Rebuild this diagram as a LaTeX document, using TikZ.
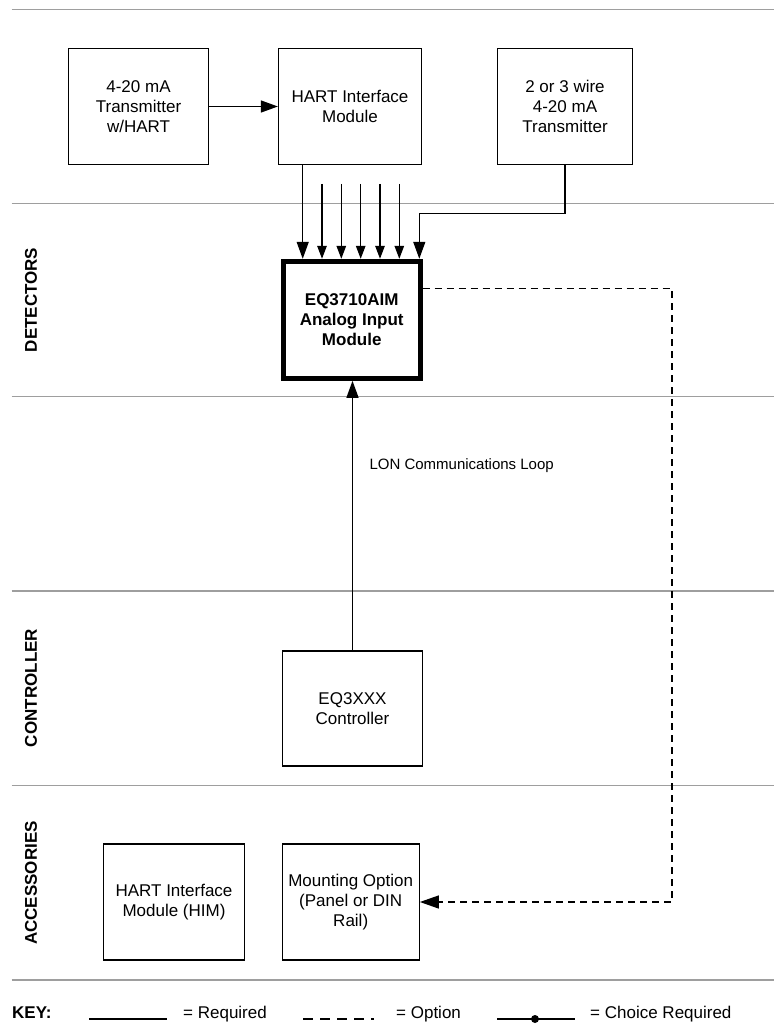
\documentclass[tikz,border=0pt]{standalone}
\usepackage{fontspec}
\setmainfont{Liberation Sans}
\usetikzlibrary{arrows.meta}
\begin{document}
\begin{tikzpicture}[x=1pt,y=-1pt,
  txt/.style={font=\fontsize{17}{20}\selectfont},
  boldtxt/.style={font=\bfseries\fontsize{17}{20}\selectfont},
  box/.style={draw, line width=1.3pt, minimum width=#1, minimum height=116pt,
              inner sep=0pt, align=center, txt},
  gridline/.style={draw=black!38, line width=1.5pt},
  conn/.style={line width=1.3pt},
  bigarrow/.style={conn, -{Triangle[length=17pt,width=12pt]}},
  smallarrow/.style={conn, -{Triangle[length=13pt,width=9.5pt]}},
  optline/.style={conn, dash pattern=on 7pt off 5pt},
  sidelabel/.style={rotate=90, boldtxt}
]
\useasboundingbox (0,0) rectangle (774,1024);

% band separators
\draw[gridline] (11.5,9.5) -- (774,9.5);
\draw[gridline] (11.5,203.3) -- (774,203.3);
\draw[gridline] (11.5,396.7) -- (774,396.7);
\draw[gridline] (11.5,591) -- (774,591);
\draw[gridline] (11.5,785.5) -- (774,785.5);
\draw[gridline] (11.5,980) -- (774,980);

% side labels
\node[sidelabel] (lbldet) at (31,300) {DETECTORS};
\node[sidelabel] (lblctl) at (31,688) {CONTROLLER};
\node[sidelabel] (lblacc) at (31,883) {ACCESSORIES};

% top boxes
\node[box=140pt] (b1) at (138.5,106.5) {4-20 mA\\Transmitter\\w/HART};
\node[box=143pt] (b2) at (350,106.5) {HART Interface\\Module};
\node[box=135pt] (b3) at (565,106.5) {2 or 3 wire\\4-20 mA\\Transmitter};

% main module
\node[box=137pt, minimum height=117pt, line width=5pt, boldtxt] (m) at (351.7,319.8)
  {EQ3710AIM\\Analog Input\\Module};

% controller
\node[box=140pt, minimum height=115pt] (c) at (352.5,708.5) {EQ3XXX\\Controller};

% accessories
\node[box=141pt] (him) at (174,902) {HART Interface\\Module (HIM)};
\node[box=137pt] (mt) at (350.7,902) {Mounting Option\\(Panel or DIN\\Rail)};

% connectors
\draw[bigarrow] (b1.east) -- (b2.west);
\draw[bigarrow] (302.7,0 |- b2.south) -- (302.7,0 |- m.north);
\coordinate (s1) at (322,184);
\coordinate (s2) at (341.3,184);
\coordinate (s3) at (360.7,184);
\coordinate (s4) at (380,184);
\coordinate (s5) at (399.3,184);
\foreach \s in {s1,s2,s3,s4,s5}
  \draw[smallarrow] (\s) -- (\s |- m.north);
\coordinate (bend) at (565,213.3);
\draw[bigarrow] (b3.south) -- (bend) -- (419.3,213.3) -- (419.3,0 |- m.north);

\draw[bigarrow] (c.north) -- (c.north |- m.south);
\node[font=\fontsize{15}{18}\selectfont, anchor=west] (lon) at (366,466) {LON Communications Loop};

\coordinate (d1) at (672,288.7);
\coordinate (d2) at (672,902);
\draw[optline, -{Triangle[length=19pt,width=13pt]}] (m.east |- d1) -- (d1) -- (d2) -- (mt.east);

% key
\node[boldtxt, anchor=base west, inner sep=0pt] (key) at (12,1018) {KEY:};
\coordinate (k1a) at (89,1019);
\coordinate (k1b) at (167,1019);
\draw[conn] (k1a) -- (k1b);
\node[txt, anchor=base west, inner sep=0pt] (kreq) at (183,1018) {= Required};
\coordinate (k2a) at (303,1019);
\coordinate (k2b) at (374,1019);
\draw[conn, dash pattern=on 10pt off 7pt] (k2a) -- (k2b);
\node[txt, anchor=base west, inner sep=0pt] (kopt) at (396,1018) {= Option};
\coordinate (k3a) at (497,1019);
\coordinate (k3b) at (575,1019);
\coordinate (k3d) at (535,1019);
\draw[conn] (k3a) -- (k3b);
\fill (k3d) circle (4pt);
\node[txt, anchor=base west, inner sep=0pt] (kch) at (590,1018) {= Choice Required};
\end{tikzpicture}
\end{document}
